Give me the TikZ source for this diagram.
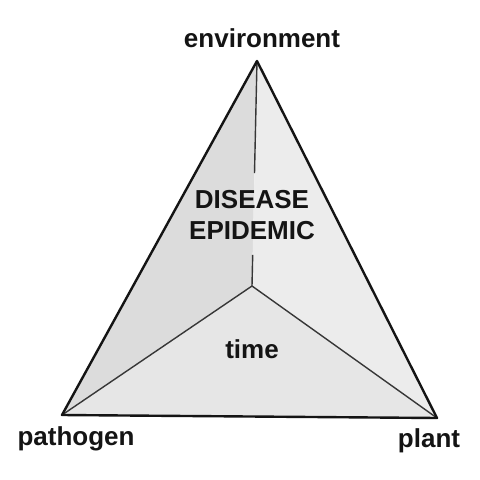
\documentclass[tikz,border=0pt]{standalone}
\usepackage{fontspec}
\setmainfont{Liberation Sans}
\usetikzlibrary{calc}
\definecolor{faceL}{RGB}{220,220,220}
\definecolor{faceR}{RGB}{236,236,236}
\definecolor{faceB}{RGB}{230,230,230}
\definecolor{ink}{RGB}{20,20,20}
\tikzset{
  lbl/.style={inner sep=0pt, anchor=base, font=\fontsize{26}{28}\selectfont\bfseries, text=ink},
  edge/.style={draw=ink, line width=2.4pt, line join=round},
  inner/.style={draw=ink!85, line width=1.4pt}
}
\begin{document}
\begin{tikzpicture}[x=1pt,y=-1pt]
\useasboundingbox[fill=white] (0,0) rectangle (480,480);
\coordinate (E) at (257,61);
\coordinate (P) at (62,415);
\coordinate (L) at (437,418);
\coordinate (C) at (252,286);
\fill[faceL] (E) -- (P) -- (C) -- cycle;
\fill[faceR] (E) -- (L) -- (C) -- cycle;
\fill[faceB] (P) -- (L) -- (C) -- cycle;
\coordinate (g1) at ($(E)!0.498!(C)$);
\coordinate (g2) at ($(E)!0.862!(C)$);
\draw[inner] (E) -- (g1);
\draw[inner] (g2) -- (C);
\draw[inner] (C) -- (P);
\draw[inner] (C) -- (L);
\draw[edge] (E) -- (P) -- (L) -- cycle;
\node[lbl] (env) at (262,47) {environment};
\node[lbl] (path) at (76,445) {pathogen};
\node[lbl] (plant) at (429,447) {plant};
\node[lbl] (dis) at (252,208) {DISEASE};
\node[lbl] (epi) at (252,239) {EPIDEMIC};
\node[lbl] (time) at (252,358) {time};
\end{tikzpicture}
\end{document}
